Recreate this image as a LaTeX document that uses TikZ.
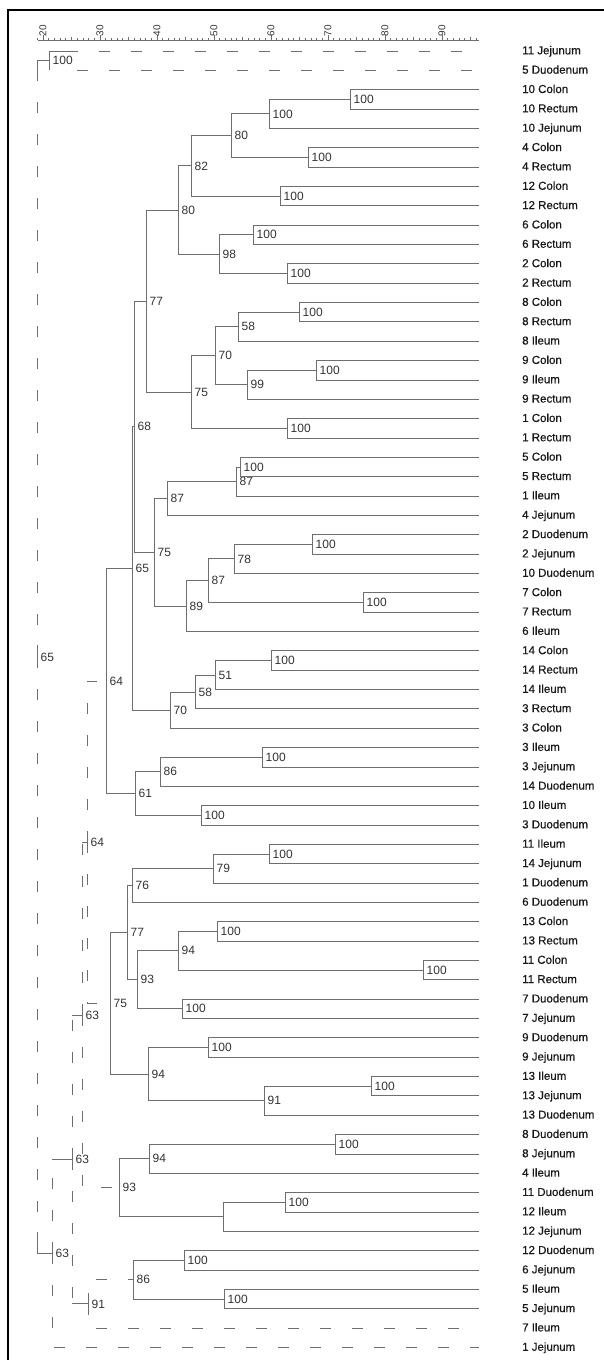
\documentclass[tikz,border=0pt]{standalone}
\usepackage{fontspec}
\setmainfont{Liberation Sans}
\newfontfamily\leaffont{Liberation Sans}[FakeBold=0.6]
\usetikzlibrary{calc}
\definecolor{treegray}{HTML}{6E6E6E}
\definecolor{labgray}{HTML}{333333}
\tikzset{
  tree/.style={draw=treegray, line width=.9pt},
  weak/.style={dash pattern=on 11pt off 21pt},
  bs/.style={font=\fontsize{12}{14}\selectfont, text=labgray, inner sep=1.5pt},
  leaf/.style={anchor=west, inner sep=0pt, text height=1.5ex, text depth=.25ex,
               font=\leaffont\fontsize{11.5}{13}\selectfont, text=black!90},
  scalelab/.style={anchor=west, rotate=90, inner sep=.5pt,
               font=\fontsize{10}{12}\selectfont, text=labgray},
  ticks/.style={draw=treegray, line width=#1},
}
\begin{document}
\begin{tikzpicture}[x=1pt, y=-19.35pt, label distance=2pt,
                    every edge/.style={tree, to path={|- (\tikztotarget)}}]
    \useasboundingbox (0,-1.636) rectangle (604,68.649);
    \draw[line width=1.4pt] (604,-1.119) -| (8,68.649);

    \coordinate (axL) at (38,0.4315);
    \coordinate (axR) at (479,0.4315);
    \draw[tree, line width=.8pt] (axL) -- (axR);
    \draw[ticks=2pt, dash pattern=on .8pt off 4.9pt] (36.9,0.38) -- (479,0.38);
    \draw[ticks=3.5pt, dash pattern=on .8pt off 27.7pt] (42.6,0.349) -- (479,0.349);
    \draw[ticks=5pt, dash pattern=on .9pt off 56.1pt] (42.55,0.31) -- (479,0.31);
    \node[scalelab] (s20) at (43,0.2765) {20};
    \node[scalelab] (s30) at (100,0.2765) {30};
    \node[scalelab] (s40) at (157,0.2765) {40};
    \node[scalelab] (s50) at (214,0.2765) {50};
    \node[scalelab] (s60) at (271,0.2765) {60};
    \node[scalelab] (s70) at (328,0.2765) {70};
    \node[scalelab] (s80) at (385,0.2765) {80};
    \node[scalelab] (s90) at (442,0.2765) {90};

    \coordinate (l1) at (479,1);   \node[leaf] (t1) at (522,1) {11 Jejunum};
    \coordinate (l2) at (479,2);   \node[leaf] (t2) at (522,2) {5 Duodenum};
    \coordinate (l3) at (479,3);   \node[leaf] (t3) at (522,3) {10 Colon};
    \coordinate (l4) at (479,4);   \node[leaf] (t4) at (522,4) {10 Rectum};
    \coordinate (l5) at (479,5);   \node[leaf] (t5) at (522,5) {10 Jejunum};
    \coordinate (l6) at (479,6);   \node[leaf] (t6) at (522,6) {4 Colon};
    \coordinate (l7) at (479,7);   \node[leaf] (t7) at (522,7) {4 Rectum};
    \coordinate (l8) at (479,8);   \node[leaf] (t8) at (522,8) {12 Colon};
    \coordinate (l9) at (479,9);   \node[leaf] (t9) at (522,9) {12 Rectum};
    \coordinate (l10) at (479,10); \node[leaf] (t10) at (522,10) {6 Colon};
    \coordinate (l11) at (479,11); \node[leaf] (t11) at (522,11) {6 Rectum};
    \coordinate (l12) at (479,12); \node[leaf] (t12) at (522,12) {2 Colon};
    \coordinate (l13) at (479,13); \node[leaf] (t13) at (522,13) {2 Rectum};
    \coordinate (l14) at (479,14); \node[leaf] (t14) at (522,14) {8 Colon};
    \coordinate (l15) at (479,15); \node[leaf] (t15) at (522,15) {8 Rectum};
    \coordinate (l16) at (479,16); \node[leaf] (t16) at (522,16) {8 Ileum};
    \coordinate (l17) at (479,17); \node[leaf] (t17) at (522,17) {9 Colon};
    \coordinate (l18) at (479,18); \node[leaf] (t18) at (522,18) {9 Ileum};
    \coordinate (l19) at (479,19); \node[leaf] (t19) at (522,19) {9 Rectum};
    \coordinate (l20) at (479,20); \node[leaf] (t20) at (522,20) {1 Colon};
    \coordinate (l21) at (479,21); \node[leaf] (t21) at (522,21) {1 Rectum};
    \coordinate (l22) at (479,22); \node[leaf] (t22) at (522,22) {5 Colon};
    \coordinate (l23) at (479,23); \node[leaf] (t23) at (522,23) {5 Rectum};
    \coordinate (l24) at (479,24); \node[leaf] (t24) at (522,24) {1 Ileum};
    \coordinate (l25) at (479,25); \node[leaf] (t25) at (522,25) {4 Jejunum};
    \coordinate (l26) at (479,26); \node[leaf] (t26) at (522,26) {2 Duodenum};
    \coordinate (l27) at (479,27); \node[leaf] (t27) at (522,27) {2 Jejunum};
    \coordinate (l28) at (479,28); \node[leaf] (t28) at (522,28) {10 Duodenum};
    \coordinate (l29) at (479,29); \node[leaf] (t29) at (522,29) {7 Colon};
    \coordinate (l30) at (479,30); \node[leaf] (t30) at (522,30) {7 Rectum};
    \coordinate (l31) at (479,31); \node[leaf] (t31) at (522,31) {6 Ileum};
    \coordinate (l32) at (479,32); \node[leaf] (t32) at (522,32) {14 Colon};
    \coordinate (l33) at (479,33); \node[leaf] (t33) at (522,33) {14 Rectum};
    \coordinate (l34) at (479,34); \node[leaf] (t34) at (522,34) {14 Ileum};
    \coordinate (l35) at (479,35); \node[leaf] (t35) at (522,35) {3 Rectum};
    \coordinate (l36) at (479,36); \node[leaf] (t36) at (522,36) {3 Colon};
    \coordinate (l37) at (479,37); \node[leaf] (t37) at (522,37) {3 Ileum};
    \coordinate (l38) at (479,38); \node[leaf] (t38) at (522,38) {3 Jejunum};
    \coordinate (l39) at (479,39); \node[leaf] (t39) at (522,39) {14 Duodenum};
    \coordinate (l40) at (479,40); \node[leaf] (t40) at (522,40) {10 Ileum};
    \coordinate (l41) at (479,41); \node[leaf] (t41) at (522,41) {3 Duodenum};
    \coordinate (l42) at (479,42); \node[leaf] (t42) at (522,42) {11 Ileum};
    \coordinate (l43) at (479,43); \node[leaf] (t43) at (522,43) {14 Jejunum};
    \coordinate (l44) at (479,44); \node[leaf] (t44) at (522,44) {1 Duodenum};
    \coordinate (l45) at (479,45); \node[leaf] (t45) at (522,45) {6 Duodenum};
    \coordinate (l46) at (479,46); \node[leaf] (t46) at (522,46) {13 Colon};
    \coordinate (l47) at (479,47); \node[leaf] (t47) at (522,47) {13 Rectum};
    \coordinate (l48) at (479,48); \node[leaf] (t48) at (522,48) {11 Colon};
    \coordinate (l49) at (479,49); \node[leaf] (t49) at (522,49) {11 Rectum};
    \coordinate (l50) at (479,50); \node[leaf] (t50) at (522,50) {7 Duodenum};
    \coordinate (l51) at (479,51); \node[leaf] (t51) at (522,51) {7 Jejunum};
    \coordinate (l52) at (479,52); \node[leaf] (t52) at (522,52) {9 Duodenum};
    \coordinate (l53) at (479,53); \node[leaf] (t53) at (522,53) {9 Jejunum};
    \coordinate (l54) at (479,54); \node[leaf] (t54) at (522,54) {13 Ileum};
    \coordinate (l55) at (479,55); \node[leaf] (t55) at (522,55) {13 Jejunum};
    \coordinate (l56) at (479,56); \node[leaf] (t56) at (522,56) {13 Duodenum};
    \coordinate (l57) at (479,57); \node[leaf] (t57) at (522,57) {8 Duodenum};
    \coordinate (l58) at (479,58); \node[leaf] (t58) at (522,58) {8 Jejunum};
    \coordinate (l59) at (479,59); \node[leaf] (t59) at (522,59) {4 Ileum};
    \coordinate (l60) at (479,60); \node[leaf] (t60) at (522,60) {11 Duodenum};
    \coordinate (l61) at (479,61); \node[leaf] (t61) at (522,61) {12 Ileum};
    \coordinate (l62) at (479,62); \node[leaf] (t62) at (522,62) {12 Jejunum};
    \coordinate (l63) at (479,63); \node[leaf] (t63) at (522,63) {12 Duodenum};
    \coordinate (l64) at (479,64); \node[leaf] (t64) at (522,64) {6 Jejunum};
    \coordinate (l65) at (479,65); \node[leaf] (t65) at (522,65) {5 Ileum};
    \coordinate (l66) at (479,66); \node[leaf] (t66) at (522,66) {5 Jejunum};
    \coordinate (l67) at (479,67); \node[leaf] (t67) at (522,67) {7 Ileum};
    \coordinate (l68) at (479,68); \node[leaf] (t68) at (522,68) {1 Jejunum};

    \coordinate[label={[bs]right:100}] (np1) at (49,1.5);
    \coordinate[label={[bs]right:100}] (n10CR) at (350,3.5);
    \coordinate[label={[bs]right:100}] (n10J) at (269,4.25);
    \coordinate[label={[bs]right:100}] (n4CR) at (308,6.5);
    \coordinate[label={[bs]right:80}] (n80a) at (231,5.375);
    \coordinate[label={[bs]right:100}] (n12CR) at (280,8.5);
    \coordinate[label={[bs]right:82}] (n82) at (191,6.9375);
    \coordinate[label={[bs]right:100}] (n6CR) at (253,10.5);
    \coordinate[label={[bs]right:100}] (n2CR) at (287,12.5);
    \coordinate[label={[bs]right:98}] (n98) at (219,11.5);
    \coordinate[label={[bs]right:80}] (n80b) at (178,9.21875);
    \coordinate[label={[bs]right:100}] (n8CR) at (299,14.5);
    \coordinate[label={[bs]right:58}] (n58a) at (238,15.25);
    \coordinate[label={[bs]right:100}] (n9CI) at (316,17.5);
    \coordinate[label={[bs]right:99}] (n99) at (247,18.25);
    \coordinate[label={[bs]right:70}] (n70a) at (215,16.75);
    \coordinate[label={[bs]right:100}] (n1CR) at (287,20.5);
    \coordinate[label={[bs]right:75}] (n75a) at (191,18.625);
    \coordinate[label={[bs]right:77}] (n77a) at (146,13.922);
    \coordinate[label={[bs]right:100}] (n5CR) at (240,22.5);
    \coordinate[label={[bs]right:87}] (n87a) at (236,23.25);
    \coordinate[label={[bs]right:87}] (n87b) at (167,24.125);
    \coordinate[label={[bs]right:100}] (n2DJ) at (312,26.5);
    \coordinate[label={[bs]right:78}] (n78) at (234,27.25);
    \coordinate[label={[bs]right:100}] (n7CR) at (363,29.5);
    \coordinate[label={[bs]right:87}] (n87c) at (208,28.375);
    \coordinate[label={[bs]right:89}] (n89) at (186,29.6875);
    \coordinate[label={[bs]right:75}] (n75b) at (154,26.906);
    \coordinate[label={[bs]right:68}] (n68) at (134,20.414);
    \coordinate[label={[bs]right:100}] (n14CR) at (271,32.5);
    \coordinate[label={[bs]right:51}] (n51) at (215,33.25);
    \coordinate[label={[bs]right:58}] (n58b) at (195,34.125);
    \coordinate[label={[bs]right:70}] (n70b) at (170,35.0625);
    \coordinate[label={[bs]right:65}] (n65a) at (132,27.738);
    \coordinate[label={[bs]right:100}] (n3IJ) at (262,37.5);
    \coordinate[label={[bs]right:86}] (n86a) at (160,38.25);
    \coordinate[label={[bs]right:100}] (n10I3D) at (201,40.5);
    \coordinate[label={[bs]right:61}] (n61) at (135,39.375);
    \coordinate[label={[bs]right:64}] (n64a) at (106,33.557);
    \coordinate[label={[bs]right:100}] (n11I14J) at (269,42.5);
    \coordinate[label={[bs]right:79}] (n79) at (213,43.25);
    \coordinate[label={[bs]right:76}] (n76) at (132,44.125);
    \coordinate[label={[bs]right:100}] (n13CR) at (217,46.5);
    \coordinate[label={[bs]right:100}] (n11CR) at (423,48.5);
    \coordinate[label={[bs]right:94}] (n94a) at (178,47.5);
    \coordinate[label={[bs]right:100}] (n7DJ) at (182,50.5);
    \coordinate[label={[bs]right:93}] (n93a) at (137,49);
    \coordinate[label={[bs]right:77}] (n77b) at (127,46.5625);
    \coordinate[label={[bs]right:100}] (n9DJ) at (208,52.5);
    \coordinate[label={[bs]right:100}] (n13IJ) at (371,54.5);
    \coordinate[label={[bs]right:91}] (n91a) at (264,55.25);
    \coordinate[label={[bs]right:94}] (n94b) at (148,53.875);
    \coordinate[label={[bs]right:75}] (n75c) at (110,50.219);
    \coordinate[label={[bs]right:64}] (n64b) at (87,41.888);
    \coordinate[label={[bs]right:100}] (n8DJ) at (335,57.5);
    \coordinate[label={[bs]right:94}] (n94c) at (149,58.25);
    \coordinate[label={[bs]right:100}] (n11D12I) at (285,60.5);
    \coordinate (n12J) at (223,61.25);
    \coordinate[label={[bs]right:93}] (n93b) at (119,59.75);
    \coordinate[label={[bs]right:63}] (n63a) at (82,50.819);
    \coordinate[label={[bs]right:100}] (n12D6J) at (184,63.5);
    \coordinate[label={[bs]right:100}] (n5IJ) at (224,65.5);
    \coordinate[label={[bs]right:86}] (n86b) at (133,64.5);
    \coordinate[label={[bs]right:91}] (n91b) at (88,65.75);
    \coordinate[label={[bs]right:63}] (n63b) at (72,58.284);
    \coordinate[label={[bs]right:63}] (n63c) at (52,63.142);
    \coordinate[label={[bs]right:65}] (root) at (37,32.321);

    \coordinate (cut1) at (78,1);
    \coordinate (cut2) at (77,2);

    \path (n10CR) edge (l3) edge (l4)
    (n10J) edge (n10CR) edge (l5)
    (n4CR) edge (l6) edge (l7)
    (n80a) edge (n10J) edge (n4CR)
    (n12CR) edge (l8) edge (l9)
    (n82) edge (n80a) edge (n12CR)
    (n6CR) edge (l10) edge (l11)
    (n2CR) edge (l12) edge (l13)
    (n98) edge (n6CR) edge (n2CR)
    (n80b) edge (n82) edge (n98)
    (n8CR) edge (l14) edge (l15)
    (n58a) edge (n8CR) edge (l16)
    (n9CI) edge (l17) edge (l18)
    (n99) edge (n9CI) edge (l19)
    (n70a) edge (n58a) edge (n99)
    (n1CR) edge (l20) edge (l21)
    (n75a) edge (n70a) edge (n1CR)
    (n77a) edge (n80b) edge (n75a)
    (n5CR) edge (l22) edge (l23)
    (n87a) edge (n5CR) edge (l24)
    (n87b) edge (n87a) edge (l25)
    (n2DJ) edge (l26) edge (l27)
    (n78) edge (n2DJ) edge (l28)
    (n7CR) edge (l29) edge (l30)
    (n87c) edge (n78) edge (n7CR)
    (n89) edge (n87c) edge (l31)
    (n75b) edge (n87b) edge (n89)
    (n68) edge (n77a) edge (n75b)
    (n14CR) edge (l32) edge (l33)
    (n51) edge (n14CR) edge (l34)
    (n58b) edge (n51) edge (l35)
    (n70b) edge (n58b) edge (l36)
    (n65a) edge (n68) edge (n70b)
    (n3IJ) edge (l37) edge (l38)
    (n86a) edge (n3IJ) edge (l39)
    (n10I3D) edge (l40) edge (l41)
    (n61) edge (n86a) edge (n10I3D)
    (n64a) edge (n65a) edge (n61)
    (n11I14J) edge (l42) edge (l43)
    (n79) edge (n11I14J) edge (l44)
    (n76) edge (n79) edge (l45)
    (n13CR) edge (l46) edge (l47)
    (n11CR) edge (l48) edge (l49)
    (n94a) edge (n13CR) edge (n11CR)
    (n7DJ) edge (l50) edge (l51)
    (n93a) edge (n94a) edge (n7DJ)
    (n77b) edge (n76) edge (n93a)
    (n9DJ) edge (l52) edge (l53)
    (n13IJ) edge (l54) edge (l55)
    (n91a) edge (n13IJ) edge (l56)
    (n94b) edge (n9DJ) edge (n91a)
    (n75c) edge (n77b) edge (n94b)
    (n8DJ) edge (l57) edge (l58)
    (n94c) edge (n8DJ) edge (l59)
    (n11D12I) edge (l60) edge (l61)
    (n12J) edge (n11D12I) edge (l62)
    (n93b) edge (n94c) edge (n12J)
    (n12D6J) edge (l63) edge (l64)
    (n5IJ) edge (l65) edge (l66)
    (n86b) edge (n12D6J) edge (n5IJ)
    (np1) edge (cut1) edge (np1 |- l2);

    \path (cut1) edge[weak, dash phase=11pt] (l1)
    (cut2) edge[weak] (l2)
    (n64b) edge[weak] (n64a) edge[weak] (n75c)
    (n63a) edge[weak] (n64b) edge[weak] (n93b)
    (n91b) edge[weak] (n86b) edge[weak] (l67)
    (n63b) edge[weak] (n63a) edge[weak] (n91b)
    (n63c) edge[weak] (n63b) edge[weak] (l68)
    (root) edge[weak] (np1) edge[weak] (n63c);

    \draw[tree] (root |- np1) -- (np1) (root |- np1) -- ++(0,.5);
    \draw[tree] (root |- n63c) -- (n63c) (root |- n63c) -- ++(0,-1.1);
    \draw[tree] (root) ++(0,-.6) -- ++(0,.8);
    \draw[tree] (n63c |- n63b) -- (n63b);
    \draw[tree] (n63b |- n63a) -- (n63a);
    \draw[tree] (n63b |- n91b) -- (n91b);
    \draw[tree] (n63a |- n64b) -- (n64b);
\end{tikzpicture}
\end{document}
